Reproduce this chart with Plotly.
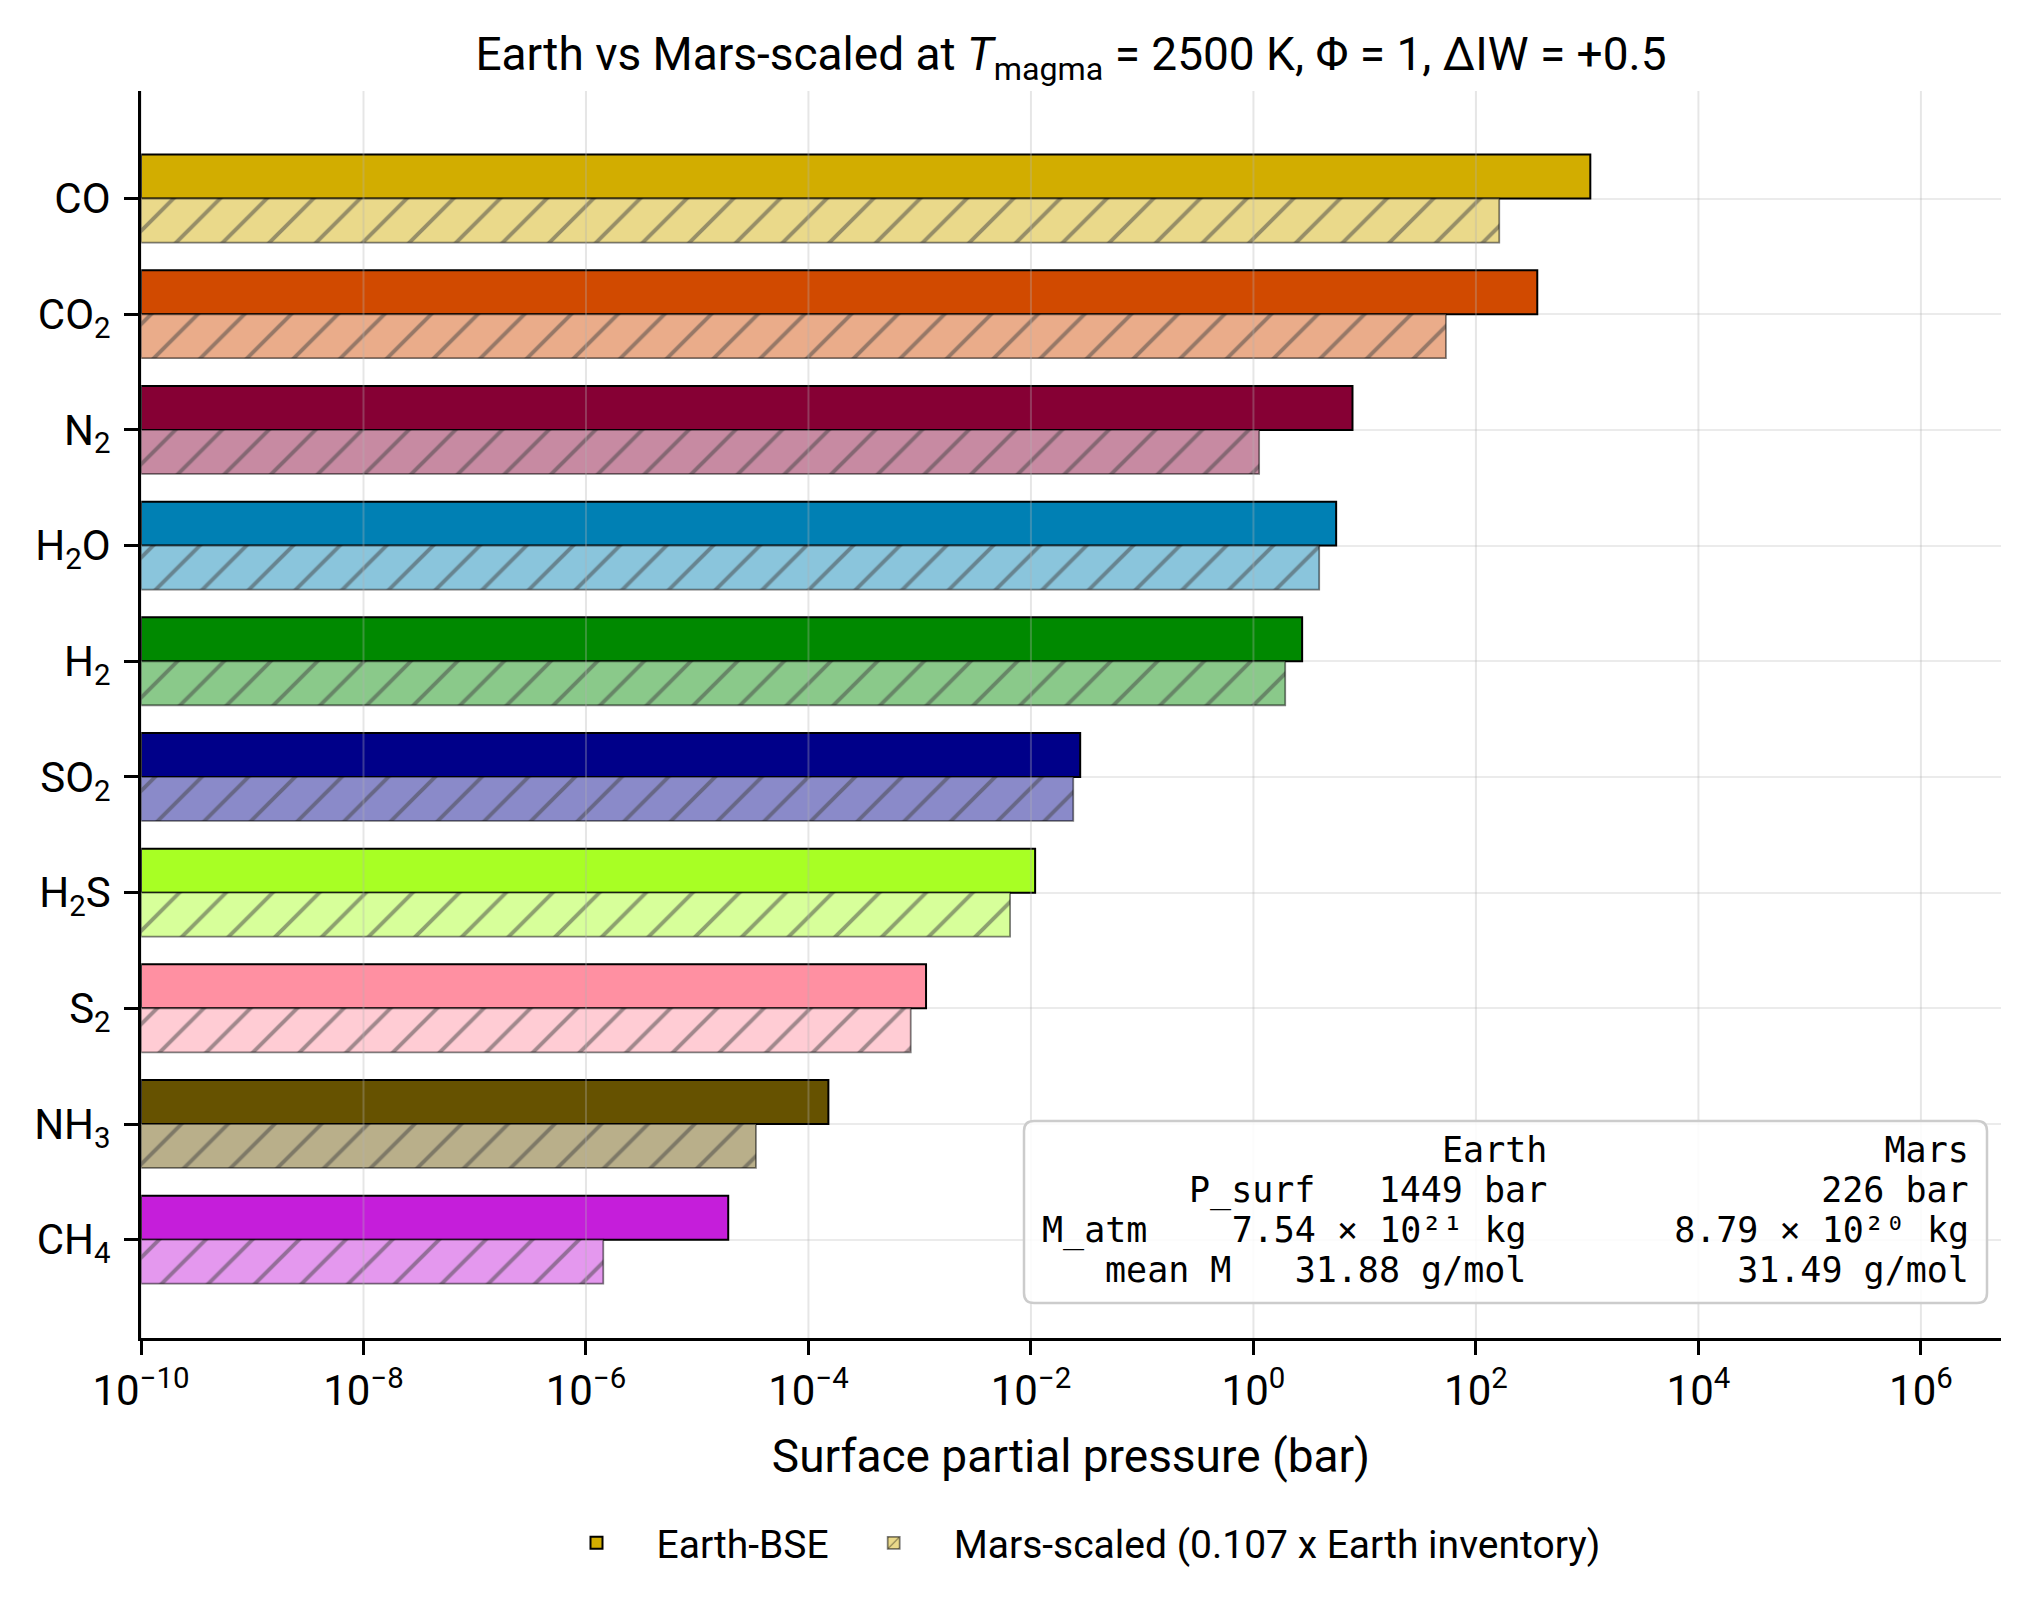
import plotly.graph_objects as go

# ---------------- data ----------------
species = ["CO", "CO<sub>2</sub>", "N<sub>2</sub>", "H<sub>2</sub>O", "H<sub>2</sub>",
           "SO<sub>2</sub>", "H<sub>2</sub>S", "S<sub>2</sub>", "NH<sub>3</sub>", "CH<sub>4</sub>"]
earth_bar = [1067, 356, 7.77, 5.54, 2.74, 0.0277, 0.0109, 0.00114, 1.51e-4, 1.90e-5]
mars_bar = [162, 53.7, 1.125, 3.90, 1.93, 0.0240, 0.00649, 0.00083, 3.37e-5, 1.43e-6]
colors = ["#D2AD00", "#D14A00", "#860034", "#0080B4", "#008900",
          "#000089", "#A8FF24", "#FF90A2", "#665200", "#C51EDA"]
tick_exp = [-10, -8, -6, -4, -2, 0, 2, 4, 6]

table_lines = [
    "Earth" + " " * 16 + "Mars",
    "P_surf" + " " * 3 + "1449 bar" + " " * 13 + "226 bar",
    "M_atm" + " " * 4 + "7.54 × 10²¹ kg" + " " * 7 + "8.79 × 10²⁰ kg",
    "mean M" + " " * 3 + "31.88 g/mol" + " " * 10 + "31.49 g/mol",
]

ALPHA = 0.46


def blend(hexc, a=ALPHA):
    h = hexc.lstrip("#")
    r, g, b = (int(h[i:i + 2], 16) for i in (0, 2, 4))
    f = lambda c: round(255 - a * (255 - c))
    return f"rgb({f(r)},{f(g)},{f(b)})"


mars_colors = [blend(c) for c in colors]

FONT = "Roboto"
W, H = 2031, 1613
L, R, T, B = 141, 30, 91, 275
plot_w, plot_h = W - L - R, H - T - B

fig = go.Figure()
fig.add_trace(go.Bar(
    y=species, x=earth_bar, base=1e-10, orientation="h",
    name="Earth-BSE",
    marker=dict(color=colors, line=dict(color="black", width=2)),
))
fig.add_trace(go.Bar(
    y=species, x=mars_bar, base=1e-10, orientation="h",
    name="Mars-scaled (0.107 x Earth inventory)",
    marker=dict(color=mars_colors,
                line=dict(color="rgba(0,0,0,0.5)", width=1.8),
                pattern=dict(shape="/", fillmode="overlay", fgcolor="black",
                             fgopacity=0.5, size=33, solidity=0.12)),
))

shapes = []
for e in tick_exp:
    shapes.append(dict(type="line", xref="x", yref="paper", x0=10.0 ** e, x1=10.0 ** e,
                       y0=0, y1=1,
                       line=dict(color="rgba(176,176,176,0.32)", width=2), layer="above"))

# rounded box for the summary table (paper coords)
bx0, bx1 = (1024 - L) / plot_w, (1987 - L) / plot_w
by0, by1 = (T + plot_h - 1303) / plot_h, (T + plot_h - 1121) / plot_h
rx, ry = 10 / plot_w, 10 / plot_h
path = (f"M{bx0+rx},{by0} L{bx1-rx},{by0} Q{bx1},{by0} {bx1},{by0+ry} "
        f"L{bx1},{by1-ry} Q{bx1},{by1} {bx1-rx},{by1} L{bx0+rx},{by1} "
        f"Q{bx0},{by1} {bx0},{by1-ry} L{bx0},{by0+ry} Q{bx0},{by0} {bx0+rx},{by0} Z")
shapes.append(dict(type="path", xref="paper", yref="paper", path=path,
                   fillcolor="rgba(255,255,255,0.85)",
                   line=dict(color="#cccccc", width=2.5), layer="above"))

annotations = []
line_y = [1150, 1190, 1230, 1270]
for txt, yy in zip(table_lines, line_y):
    annotations.append(dict(
        text=txt.replace(" ", "\u00a0"), xref="paper", yref="paper",
        x=(1971 - L) / plot_w, y=(T + plot_h - yy) / plot_h,
        xanchor="right", yanchor="middle", showarrow=False, align="right",
        font=dict(family="DejaVu Sans Mono", size=35, color="black")))

fig.update_layout(
    width=W, height=H,
    margin=dict(l=L, r=R, t=T, b=B),
    plot_bgcolor="white", paper_bgcolor="white",
    barmode="group", bargap=0.24, bargroupgap=0,
    font=dict(family=FONT, size=42, color="black"),
    title=dict(text="Earth vs Mars-scaled at <i>T</i><sub>magma</sub> = 2500 K, Φ = 1, ΔIW = +0.5",
               x=(1071) / W, xanchor="center", y=1 - 54 / H, yanchor="middle",
               font=dict(family=FONT, size=46)),
    legend=dict(orientation="h", x=0.5, xanchor="center", y=(T + plot_h - 1543) / plot_h,
                yanchor="middle", font=dict(family=FONT, size=39), itemwidth=110,
                tracegroupgap=0),
    shapes=shapes,
    annotations=annotations,
)
fig.update_xaxes(
    type="log", range=[-10, 6.72],
    tickvals=[10.0 ** e for e in tick_exp],
    ticktext=[f"10<sup>{str(e).replace('-', '−')}</sup>" for e in tick_exp],
    showgrid=False, zeroline=False,
    showline=True, linecolor="black", linewidth=3,
    ticks="outside", ticklen=14, tickwidth=2.5, tickcolor="black",
    tickfont=dict(family=FONT, size=42),
    title=dict(text="Surface partial pressure (bar)", font=dict(family=FONT, size=46), standoff=26),
)
fig.update_yaxes(
    type="category", categoryorder="array", categoryarray=species,
    range=[9.85, -0.93],
    showgrid=True, gridcolor="#ebebeb", gridwidth=2, zeroline=False,
    showline=True, linecolor="black", linewidth=3,
    ticks="outside", ticklen=14, tickwidth=2.5, tickcolor="black",
    ticklabelstandoff=5,
    tickfont=dict(family=FONT, size=42),
)

fig.write_html("out.html")
